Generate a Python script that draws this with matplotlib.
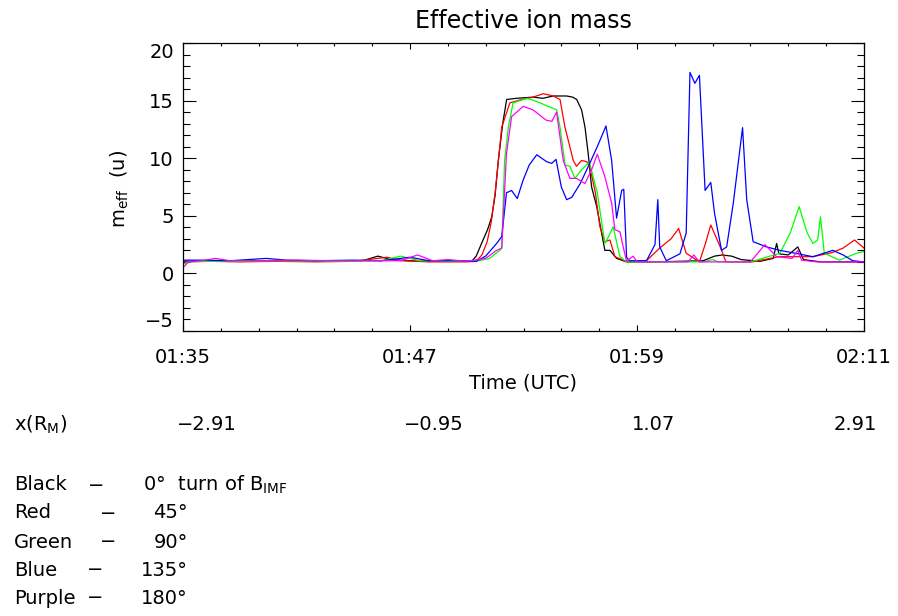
import matplotlib
matplotlib.use("Agg")
import matplotlib.pyplot as plt
from matplotlib.ticker import MultipleLocator

plt.rcParams['font.family'] = ['DejaVu Sans']

# Time in minutes after 01:35 UTC
t_black = [0, 2, 4, 6, 8, 9.5, 10.3, 11, 12, 13, 14, 15, 15.26, 15.5, 15.86, 16.1, 16.32, 16.5, 16.67,
           16.9, 17.11, 17.64, 18.5, 19.03, 19.56, 20.28, 20.6, 20.81, 21.07, 21.25, 21.42, 21.6, 21.87,
           22.13, 22.3, 22.57, 22.92, 23.45, 25, 27.5, 28.1, 28.5, 29.0, 29.5, 30.5, 31.2, 31.38, 31.5,
           32.0, 32.5, 32.8, 33.7, 36]
v_black = [1.05, 1.05, 1.1, 1.05, 1.05, 1.1, 1.5, 1.2, 1.1, 1.05, 1.05, 1.05, 1.05, 1.5, 2.9, 3.8, 4.9, 6.8,
           9.8, 13.0, 15.1, 15.2, 15.3, 15.2, 15.4, 15.4, 15.3, 15.1, 14.2, 12.7, 10.4, 7.5, 5.8, 3.5, 2.0,
           2.0, 1.3, 1.0, 1.0, 1.1, 1.5, 1.6, 1.5, 1.2, 1.05, 1.3, 2.6, 1.7, 1.6, 2.3, 1.2, 1.0, 1.0]

t_red = [0, 1.5, 3, 5, 7, 9, 10.8, 11.5, 13, 15, 15.5, 15.8, 16.08, 16.3, 16.5, 16.85, 17.28, 17.8, 18.5,
         19.05, 19.57, 19.93, 20.19, 20.45, 20.63, 20.8, 21.07, 21.34, 21.5, 21.8, 22.04, 22.3, 22.57,
         22.83, 23.5, 24.5, 25.2, 25.8, 26.2, 26.6, 27.3, 27.6, 27.9, 28.4, 28.7, 30.1, 31.5, 33.3, 34.3,
         34.9, 35.5, 36]
v_red = [1.0, 1.05, 1.0, 1.05, 1.0, 1.05, 1.4, 1.1, 1.0, 1.0, 1.05, 1.6, 2.75, 4.5, 7.0, 12.7, 14.8, 15.05,
         15.3, 15.6, 15.4, 15.1, 12.7, 11.0, 9.8, 9.3, 9.8, 9.7, 9.3, 7.0, 4.05, 2.75, 2.9, 1.45, 1.0, 1.1,
         2.2, 3.0, 3.9, 1.75, 1.0, 2.5, 4.2, 2.3, 1.0, 1.0, 1.45, 1.45, 1.8, 2.2, 2.9, 2.2]

t_green = [0, 0.3, 1, 3, 5, 7, 9, 10.5, 11.5, 12.5, 14, 15.5, 16.2, 16.75, 16.85, 17.0, 17.2, 17.45, 18.17,
           18.5, 18.87, 19.3, 19.75, 19.93, 20.2, 20.45, 20.72, 21.07, 21.42, 21.5, 21.9, 22.3, 22.5, 22.74,
           22.95, 23.1, 23.45, 27.5, 28.0, 28.3, 30, 31.55, 32.1, 32.57, 33.0, 33.3, 33.55, 33.7, 33.9,
           34.7, 35.6, 36]
v_green = [0.8, 1.0, 1.05, 1.05, 1.1, 1.05, 1.05, 1.1, 1.5, 1.1, 1.05, 1.05, 1.3, 2.0, 2.2, 9.8, 12.7, 14.8,
           15.2, 15.05, 14.8, 14.5, 14.2, 12.7, 9.4, 9.3, 8.25, 9.0, 9.55, 9.55, 7.0, 2.6, 3.2, 4.05, 2.5,
           1.45, 1.0, 1.0, 1.2, 1.0, 1.0, 1.75, 3.5, 5.8, 3.5, 2.6, 2.9, 4.9, 1.75, 1.15, 1.75, 1.9]

t_blue = [0, 1, 2.5, 4.4, 5.5, 7, 9, 10.5, 12, 13, 14.5, 15.5, 16.0, 16.58, 16.85, 17.1, 17.37, 17.67,
          17.98, 18.3, 18.7, 19.22, 19.49, 19.72, 20.0, 20.28, 20.55, 21.0, 21.5, 21.9, 22.36, 22.66, 22.92,
          23.19, 23.3, 23.45, 23.6, 24.5, 24.95, 25.1, 25.2, 25.55, 26.27, 26.6, 26.8, 27.06, 27.3, 27.6,
          27.9, 28.1, 28.47, 28.74, 29.09, 29.58, 29.8, 30.14, 30.85, 31.55, 32.2, 33.3, 34.35, 34.9, 35.4,
          36]
v_blue = [1.15, 1.15, 1.1, 1.3, 1.15, 1.1, 1.15, 1.1, 1.4, 1.1, 1.1, 1.05, 1.5, 2.6, 3.2, 7.0, 7.2, 6.5,
          8.1, 9.4, 10.3, 9.7, 9.55, 9.9, 7.5, 6.4, 6.6, 7.8, 9.55, 11.0, 12.8, 9.8, 4.8, 7.2, 7.3, 1.4, 1.1,
          1.1, 2.5, 6.4, 2.3, 1.1, 1.7, 3.5, 17.45, 16.5, 17.2, 7.2, 7.9, 5.2, 2.0, 2.3, 6.1, 12.65, 6.4,
          2.75, 2.3, 2.0, 1.8, 1.45, 2.0, 1.6, 1.1, 1.0]

t_purple = [0, 0.3, 1, 1.7, 2.5, 4, 6, 8, 10, 11.5, 12.4, 13.2, 14, 15, 16.0, 16.58, 16.85, 17.1, 17.37,
            17.98, 18.5, 19.2, 19.5, 19.75, 20.1, 20.45, 20.8, 21.25, 21.6, 21.9, 22.3, 22.66, 22.83, 23.1,
            23.27, 23.45, 23.8, 24.0, 26.7, 27.0, 27.3, 30.0, 30.76, 31.38, 32.2, 32.5, 32.7, 33.5, 36]
v_purple = [0.5, 1.0, 1.1, 1.3, 1.1, 1.1, 1.15, 1.1, 1.1, 1.1, 1.6, 1.1, 1.2, 1.05, 1.3, 2.0, 2.2, 10.4,
            13.6, 14.5, 14.2, 13.3, 13.2, 14.0, 9.8, 8.25, 8.25, 7.8, 9.0, 10.35, 8.4, 6.1, 3.8, 3.6, 2.3,
            1.05, 1.5, 1.0, 1.0, 1.6, 1.0, 1.0, 2.5, 1.45, 1.3, 2.0, 1.15, 1.0, 1.0]

time_ticks = [0, 12, 24, 36]
time_labels = ['01:35', '01:47', '01:59', '02:11']
x_rm_labels = ['\u22122.91', '\u22120.95', '1.07', '2.91']
y_ticks = [-5, 0, 5, 10, 15, 20]

legend_names = ['Black', 'Red', 'Green', 'Blue', 'Purple']
legend_angles = ['0\u00b0', '45\u00b0', '90\u00b0', '135\u00b0', '180\u00b0']

FS = 14
W, H = 898, 616
fig = plt.figure(figsize=(W / 100, H / 100), dpi=100)
ax = fig.add_axes([183 / W, 1 - 331 / H, (864 - 183) / W, (331 - 43) / H])

series = [(t_black, v_black, 'black'), (t_red, v_red, '#ff0000'), (t_green, v_green, '#00ff00'),
          (t_blue, v_blue, '#0000ff'), (t_purple, v_purple, '#ff00ff')]
for t, v, c in series:
    ax.plot(t, v, color=c, lw=0.9)

ax.set_xlim(0, 36)
ax.set_ylim(-5, 20)
for s in ax.spines.values():
    s.set_linewidth(0.9)

ax.set_xticks(time_ticks, labels=time_labels)
ax.xaxis.set_minor_locator(MultipleLocator(2))
ax.set_yticks(y_ticks, labels=[str(v).replace('-', '\u2212') for v in y_ticks])
ax.yaxis.set_minor_locator(MultipleLocator(1))

ax.tick_params(axis='both', which='both', direction='in', top=True, right=True, width=0.8, labelsize=FS)
ax.tick_params(axis='y', which='major', length=9.4, pad=6.5)
ax.tick_params(axis='y', which='minor', length=4.7)
ax.tick_params(axis='x', which='major', length=4.5, pad=12)
ax.tick_params(axis='x', which='minor', length=2.3)

ylabels = ax.get_yticklabels()
ylabels[0].set_va('bottom')
ylabels[-1].set_va('top')

fig.text(523 / W, 1 - 21 / H, 'Effective ion mass', ha='center', va='center', fontsize=17)
fig.text(523 / W, 1 - 383 / H, 'Time (UTC)', ha='center', va='center', fontsize=FS)
fig.text(120 / W, 1 - 189 / H, r'm$_{\mathrm{eff}}$  (u)', rotation=90, ha='center', va='center', fontsize=FS)

fig.text(14 / W, 1 - 425 / H, r'x(R$_{\mathrm{M}}$)', ha='left', va='center', fontsize=FS)
for xc, lab in zip([207, 434, 654, 855], x_rm_labels):
    fig.text(xc / W, 1 - 425 / H, lab, ha='center', va='center', fontsize=FS)

row_y = [485, 513, 542, 570, 598]
dash_x = [88, 100, 100, 87, 87]
for yy, name, dx, ang in zip(row_y, legend_names, dash_x, legend_angles):
    fig.text(14 / W, 1 - yy / H, name, ha='left', va='center', fontsize=FS)
    fig.text(dx / W, 1 - yy / H, '\u2212', ha='left', va='center', fontsize=FS)
    if name == 'Black':
        fig.text(143 / W, 1 - yy / H, ang + r'  turn of B$_{\mathrm{IMF}}$', ha='left', va='center',
                 fontsize=FS)
    else:
        fig.text(188 / W, 1 - yy / H, ang, ha='right', va='center', fontsize=FS)

fig.savefig('out.png', dpi=100)
